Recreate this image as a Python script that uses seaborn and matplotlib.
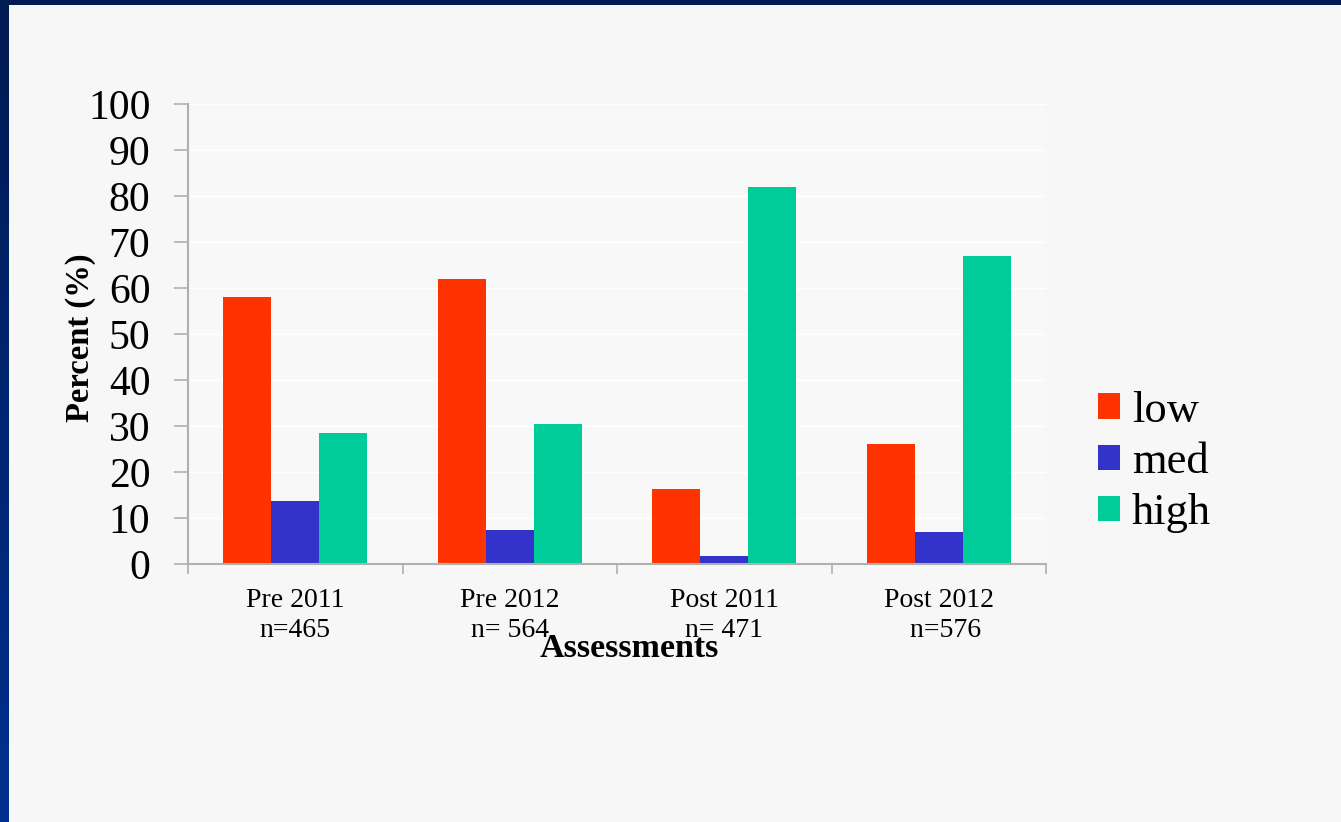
import numpy as np
import pandas as pd
import matplotlib
matplotlib.use("Agg")
import matplotlib.pyplot as plt
from matplotlib.patches import Rectangle
from matplotlib.colors import LinearSegmentedColormap
import seaborn as sns

categories = ["Pre 2011\nn=465", "Pre 2012\nn= 564", "Post 2011\nn= 471", "Post 2012\n  n=576"]
levels = ["low", "med", "high"]
low_vals = [58.1, 62.0, 16.4, 26.0]
med_vals = [13.6, 7.4, 1.7, 7.0]
high_vals = [28.4, 30.5, 81.9, 66.9]
yticks = [0, 10, 20, 30, 40, 50, 60, 70, 80, 90, 100]
colors = ["#ff3300", "#3333cc", "#00cc99"]

df = pd.DataFrame({
    "Assessment": categories * 3,
    "Level": ["low"] * 4 + ["med"] * 4 + ["high"] * 4,
    "Percent": low_vals + med_vals + high_vals,
})

sns.set_theme(style="white")
plt.rcParams["font.family"] = ["Liberation Serif", "DejaVu Serif"]
plt.rcParams["text.color"] = "black"
plt.rcParams["xtick.color"] = "black"
plt.rcParams["ytick.color"] = "black"

W, H = 1341, 822
fig = plt.figure(figsize=(W / 100, H / 100), dpi=100)

# background: blue gradient frame with light panel
bg = fig.add_axes([0, 0, 1, 1], zorder=-10)
grad = np.linspace(0, 1, 256).reshape(-1, 1)
cmap = LinearSegmentedColormap.from_list("bgblue", ["#001a52", "#00308f"])
bg.imshow(grad, aspect="auto", cmap=cmap, extent=[0, 1, 0, 1], origin="upper")
bg.add_patch(Rectangle((9 / W, 0), 1 - 9 / W, 1 - 5 / H, transform=bg.transAxes,
                       facecolor="#f7f7f7", edgecolor="none"))
bg.set_xlim(0, 1); bg.set_ylim(0, 1)
bg.axis("off")

left, right = 188 / W, 1046 / W
bottom, top = 1 - 564 / H, 1 - 104 / H
ax = fig.add_axes([left, bottom, right - left, top - bottom])
ax.set_facecolor("#f8f8f8")

sns.barplot(data=df, x="Assessment", y="Percent", hue="Level", hue_order=levels,
            palette=colors, width=0.67, gap=0, saturation=1, ax=ax,
            edgecolor="none", linewidth=0, legend=True, errorbar=None)

ax.set_xlim(-0.5, 3.5)
ax.set_ylim(0, 100)
ax.set_yticks(yticks)
ax.set_yticklabels([str(t) for t in yticks], fontsize=30)
ax.tick_params(axis="y", length=10, width=1.2, color="#b0b0b0", labelcolor="black", pad=17, left=True)
ax.set_xticks(range(4))
ax.set_xticklabels(categories, fontsize=20, linespacing=1.3)
ax.set_xticks([-0.5, 0.5, 1.5, 2.5, 3.5], minor=True)
ax.tick_params(axis="x", which="major", length=0, pad=17, labelcolor="black")
ax.tick_params(axis="x", which="minor", length=7, width=1.2, color="#b0b0b0", bottom=True)
ax.set_xlabel("")
ax.set_ylabel("")
ax.grid(axis="y", color="#ffffff", linewidth=1)
ax.set_axisbelow(True)
for s in ["top", "right"]:
    ax.spines[s].set_visible(False)
for s in ["left", "bottom"]:
    ax.spines[s].set_color("#b0b0b0")
    ax.spines[s].set_linewidth(1.5)

fig.text(80 / W, 1 - 338 / H, "Percent (%)", rotation=90, ha="center", va="center",
         fontsize=23.5, fontweight="bold", color="black")
fig.text(629 / W, 1 - 657 / H, "Assessments", ha="center", va="baseline",
         fontsize=24.5, fontweight="bold", color="black")

handles, labels = ax.get_legend_handles_labels()
leg = ax.legend(handles, labels, loc="center left", bbox_to_anchor=(1098 / W, 1 - 462 / H),
                bbox_transform=fig.transFigure, frameon=False, fontsize=32,
                handlelength=0.5, handleheight=0.5, handletextpad=0.26,
                labelspacing=0.25, borderpad=0, borderaxespad=0)
for t in leg.get_texts():
    t.set_color("black")

fig.savefig("out.png", dpi=100, facecolor=fig.get_facecolor())
